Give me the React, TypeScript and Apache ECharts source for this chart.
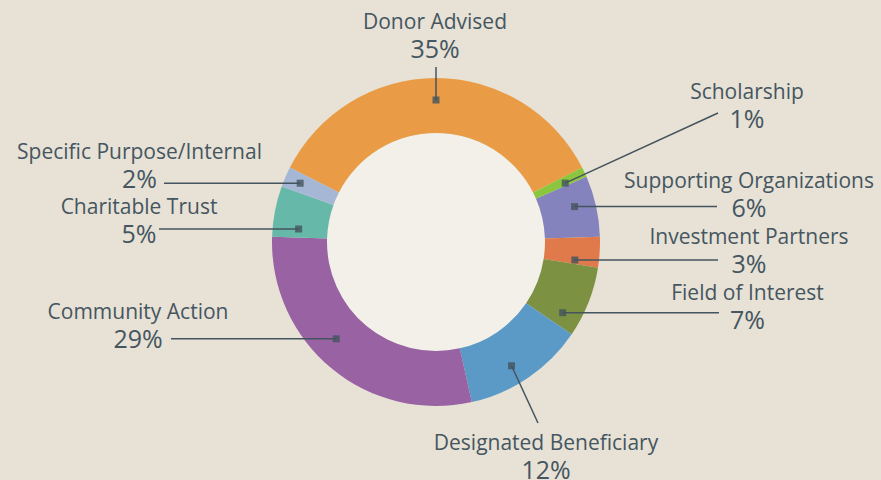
import React, { useEffect, useRef } from 'react';
import * as echarts from 'echarts';

// ---- data ----
const categories = [
  'Donor Advised',
  'Scholarship',
  'Supporting Organizations',
  'Investment Partners',
  'Field of Interest',
  'Designated Beneficiary',
  'Community Action',
  'Charitable Trust',
  'Specific Purpose/Internal',
];
const shares = [35, 1, 6, 3, 7, 12, 29, 5, 2];
const colors = ['#e99c45', '#8cc63e', '#8583bd', '#e07a4b', '#7d9142', '#5b9ac7', '#9862a3', '#66b8a9', '#a5b7d4'];

// ---- layout ----
const CX = 436;
const CY = 242;
const R_IN = 109;
const R_OUT = 164;
const START = 153;
const TEXT = '#455660';
const LINE = '#44545e';
const FONT = '"Open Sans", "DejaVu Sans", sans-serif';
// where in the slice the marker sits (fraction of slice span) and its radius
const markerFrac = [0.5, 0.7, 0.42, 0.85, 0.8, 0.565, 0.56, 0.2, 0.5];
const markerR = [142, 142, 143, 140, 145, 145, 139, 138, 148];
// label centre positions
const labelPos: [number, number][] = [
  [435, 34.5], [747, 104], [749, 193], [749, 249], [747.5, 305],
  [546, 455], [138, 324], [139, 219], [139.5, 164.5],
];
// label line end points (null = same as marker)
const lineEnd: [number | null, number | null][] = [
  [null, 67], [718, 113], [717, null], [718, null], [719, null],
  [538, 423], [171, null], [159, null], [164, null],
];

function markerAngleValue(i: number): number {
  let cum = 0;
  for (let k = 0; k < i; k++) cum += shares[k];
  return cum + markerFrac[i] * shares[i];
}
function markerPixel(i: number): [number, number] {
  const total = shares.reduce((a, b) => a + b, 0);
  const deg = START - (markerAngleValue(i) / total) * 360;
  const rad = (deg * Math.PI) / 180;
  return [CX + markerR[i] * Math.cos(rad), CY - markerR[i] * Math.sin(rad)];
}

export default function App() {
  const ref = useRef<HTMLDivElement>(null);
  useEffect(() => {
    document.body.style.margin = '0';
    if (!ref.current) return;
    const chart = echarts.init(ref.current, undefined, { renderer: 'svg' });
    const total = shares.reduce((a, b) => a + b, 0);
    const pieBase = {
      type: 'pie',
      silent: true,
      center: [CX, CY],
      radius: [R_IN, R_OUT],
      startAngle: START,
      clockwise: true,
      avoidLabelOverlap: false,
      emphasis: { disabled: true },
    };
    chart.setOption({
      animation: false,
      backgroundColor: '#e7e1d6',
      polar: { center: [CX, CY], radius: R_OUT },
      angleAxis: { type: 'value', min: 0, max: total, startAngle: START, clockwise: true, show: false },
      radiusAxis: { type: 'value', min: 0, max: R_OUT, show: false },
      series: [
        {
          type: 'pie',
          silent: true,
          center: [CX, CY],
          radius: [0, R_IN],
          label: { show: false },
          labelLine: { show: false },
          emphasis: { disabled: true },
          data: [{ value: 1, name: 'inner', itemStyle: { color: '#f3f0ea' } }],
          z: 1,
        },
        {
          ...pieBase,
          itemStyle: { borderWidth: 0 },
          label: { show: false },
          labelLine: { show: false },
          data: categories.map((c, i) => ({ name: c, value: shares[i], itemStyle: { color: colors[i] } })),
          z: 2,
        },
        {
          ...pieBase,
          itemStyle: { color: 'rgba(0,0,0,0)', borderWidth: 0 },
          data: categories.map((c, i) => ({ name: c, value: shares[i] })),
          label: {
            show: true,
            position: 'outside',
            formatter: (p: any) => `{n|${p.name}}\n{p|${p.value}%}`,
            rich: {
              n: { fontFamily: FONT, fontSize: 21, fontWeight: 500, lineHeight: 27, color: TEXT },
              p: { fontFamily: FONT, fontSize: 25, fontWeight: 500, lineHeight: 27, color: TEXT },
            },
          },
          labelLine: { show: true, lineStyle: { color: LINE, width: 1.5 } },
          labelLayout: (params: any) => {
            const i = params.dataIndex;
            const [mx, my] = markerPixel(i);
            const ex = lineEnd[i][0] ?? mx;
            const ey = lineEnd[i][1] ?? my;
            return {
              x: labelPos[i][0],
              y: labelPos[i][1],
              align: 'center',
              verticalAlign: 'middle',
              labelLinePoints: [[mx, my], [mx, my], [ex, ey]],
            };
          },
          z: 3,
        },
        {
          type: 'scatter',
          coordinateSystem: 'polar',
          silent: true,
          symbol: 'rect',
          symbolSize: 7,
          itemStyle: { color: LINE },
          data: categories.map((_, i) => [markerR[i], markerAngleValue(i)]),
          z: 5,
        },
      ],
    });
    return () => chart.dispose();
  }, []);
  return <div ref={ref} style={{ width: 881, height: 480 }} />;
}
